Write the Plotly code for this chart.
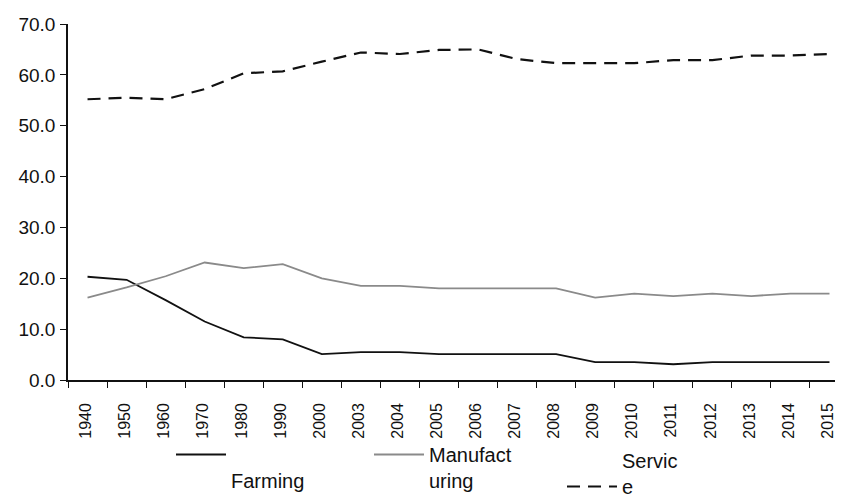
import plotly.graph_objects as go

years = ["1940", "1950", "1960", "1970", "1980", "1990", "2000", "2003", "2004", "2005",
         "2006", "2007", "2008", "2009", "2010", "2011", "2012", "2013", "2014", "2015"]
farming = [20.3, 19.7, 15.7, 11.5, 8.4, 8.0, 5.1, 5.5, 5.5, 5.1,
           5.1, 5.1, 5.1, 3.5, 3.5, 3.1, 3.5, 3.5, 3.5, 3.5]
manufacturing = [16.2, 18.2, 20.4, 23.1, 22.0, 22.8, 20.0, 18.5, 18.5, 18.0,
                 18.0, 18.0, 18.0, 16.2, 17.0, 16.5, 17.0, 16.5, 17.0, 17.0]
service = [55.2, 55.5, 55.2, 57.2, 60.3, 60.7, 62.6, 64.4, 64.1, 64.9,
           65.0, 63.1, 62.3, 62.3, 62.3, 62.9, 62.9, 63.8, 63.8, 64.1]
y_ticks = [0, 10, 20, 30, 40, 50, 60, 70]

FONT = "Liberation Sans, Arial, sans-serif"
W, H = 835, 490  # page body adds an 8px offset

fig = go.Figure()
fig.add_trace(go.Scatter(x=years, y=farming, mode="lines", name="<br>Farming",
                         line=dict(color="#111111", width=1.8), legend="legend"))
fig.add_trace(go.Scatter(x=years, y=manufacturing, mode="lines", name="Manufact<br>uring",
                         line=dict(color="#8a8a8a", width=1.8), legend="legend"))
fig.add_trace(go.Scatter(x=years, y=service, mode="lines", name="Servic<br>e",
                         line=dict(color="#111111", width=2.2, dash="13px,8px"), legend="legend2"))

fig.update_layout(
    width=W, height=H,
    margin=dict(l=60, r=0, t=16, b=118, autoexpand=False),
    paper_bgcolor="white", plot_bgcolor="white",
    font=dict(family=FONT, color="#111111"),
    legend=dict(orientation="h", xref="container", yref="container",
                x=163 / W, xanchor="left", y=1 - 427 / H, yanchor="top", valign="top",
                itemwidth=50, entrywidth=133, entrywidthmode="pixels",
                font=dict(size=20, family=FONT, color="#111111"),
                bgcolor="rgba(0,0,0,0)", traceorder="normal"),
    legend2=dict(orientation="h", xref="container", yref="container",
                 x=554 / W, xanchor="left", y=1 - 433 / H, yanchor="top", valign="bottom",
                 itemwidth=50,
                 font=dict(size=20, family=FONT, color="#111111"),
                 bgcolor="rgba(0,0,0,0)"),
    xaxis=dict(type="category", range=[-0.5, 19.346], showgrid=False, zeroline=False,
               showline=True, linecolor="#111111", linewidth=1.5, automargin=False,
               ticks="outside", tickson="boundaries", ticklen=6, tickcolor="#111111",
               tickwidth=1.3, tickangle=-90, ticklabelstandoff=15, ticklabelshift=-2,
               tickfont=dict(size=16, family=FONT, color="#111111")),
    yaxis=dict(range=[0, 70], tickvals=y_ticks, tickformat=".1f", showgrid=False,
               zeroline=False, showline=True, linecolor="#111111", linewidth=1.5,
               automargin=False,
               ticks="outside", ticklen=6, tickcolor="#111111", tickwidth=1.3,
               ticklabelstandoff=1,
               tickfont=dict(size=19, family=FONT, color="#111111")),
)

fig.write_html("out.html")
